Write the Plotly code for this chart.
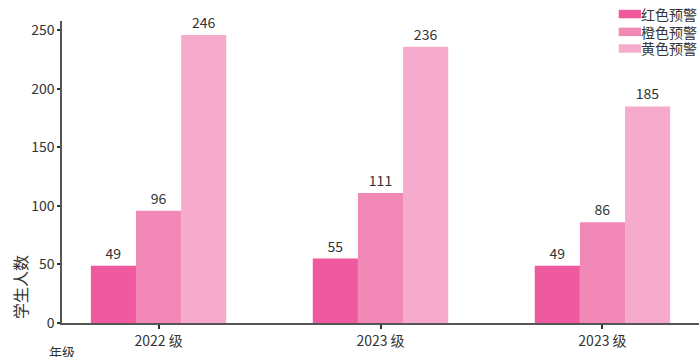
import plotly.graph_objects as go

grades = ["2022 级", "2023 级", "2023 级"]
series_names = ["红色预警", "橙色预警", "黄色预警"]
red_vals = [49, 55, 49]
orange_vals = [96, 111, 86]
yellow_vals = [246, 236, 185]
colors = ["#EF5A9E", "#F288B6", "#F6ABCC"]
y_ticks = [0, 50, 100, 150, 200, 250]

FONT = "Noto Sans CJK SC"
TXT = "#333333"
positions = list(range(len(grades)))

fig = go.Figure()
for name, vals, col in zip(series_names, [red_vals, orange_vals, yellow_vals], colors):
    fig.add_trace(go.Bar(
        x=positions, y=vals, name=name, marker_color=col, marker_line_width=0,
        text=[str(v) for v in vals], textposition="outside",
        textfont=dict(family=FONT, size=14, color=TXT), cliponaxis=False,
    ))

fig.update_layout(
    width=699, height=357,
    margin=dict(l=62, r=0, t=21, b=34, autoexpand=False),
    paper_bgcolor="white", plot_bgcolor="white",
    barmode="group", bargap=0.39, bargroupgap=0,
    font=dict(family=FONT, size=14, color=TXT),
    showlegend=False,
)
fig.update_xaxes(
    range=[-0.435, 2.435], tickmode="array", tickvals=positions, ticktext=grades,
    showline=True, linecolor="#555555", linewidth=1.5, ticks="outside",
    ticklen=4, tickwidth=2, tickcolor="#333333", showgrid=False, zeroline=False,
    tickfont=dict(family=FONT, size=14, color=TXT),
)
fig.update_yaxes(
    range=[0, 258], tickmode="array", tickvals=y_ticks,
    showline=True, linecolor="#555555", linewidth=1.5, ticks="outside",
    ticklen=3, tickwidth=2, tickcolor="#333333", showgrid=False, zeroline=False,
    tickfont=dict(family=FONT, size=14, color=TXT),
)

# custom legend (swatch + label)
legend_rows_y = [1.023, 0.964, 0.909]
for name, col, ly in zip(series_names, colors, legend_rows_y):
    fig.add_shape(type="rect", xref="paper", yref="paper",
                  x0=0.874, x1=0.909, y0=ly - 0.014, y1=ly + 0.014,
                  fillcolor=col, line_width=0)
    fig.add_annotation(text=name, xref="paper", yref="paper", x=0.908, y=ly,
                       showarrow=False, xanchor="left", yanchor="middle",
                       borderpad=0,
                       font=dict(family=FONT, size=14, color=TXT))

fig.add_annotation(text="学生人数", xref="paper", yref="paper", x=-0.066, y=0.119,
                   textangle=-90, showarrow=False, xanchor="center", yanchor="middle",
                   font=dict(family=FONT, size=16, color=TXT))
fig.add_annotation(text="年级", xref="paper", yref="paper", x=-0.022, y=-0.058,
                   showarrow=False, xanchor="left", yanchor="top", borderpad=0,
                   font=dict(family=FONT, size=13, color=TXT))

fig.write_html("out.html", config={"displayModeBar": False},
               post_script="document.body.style.margin='0';document.body.style.overflow='hidden';")
